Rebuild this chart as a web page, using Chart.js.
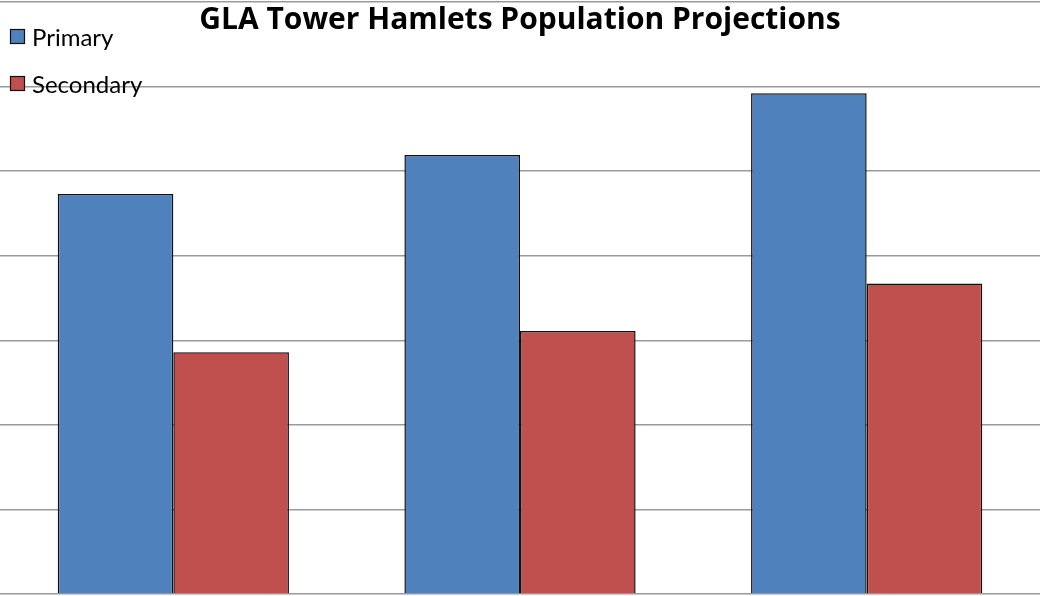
<!DOCTYPE html>
<html>
<head>
<meta charset="utf-8">
<script src="https://cdn.jsdelivr.net/npm/chart.js@4/dist/chart.umd.min.js"></script>
<style>
  html, body { margin:0; padding:0; background:#fff; }
  #wrap { width:1040px; height:596px; position:relative; }
</style>
</head>
<body>
<div id="wrap"><canvas id="chart"></canvas></div>
<script>
// data (units unknown, gridlines every 1)
const categories = ['2011', '2016', '2021'];
const primaryVals = [4.73, 5.19, 5.92];
const secondaryVals = [2.86, 3.11, 3.67];
const seriesNames = ['Primary', 'Secondary'];
const chartTitle = 'GLA Tower Hamlets Population Projections';

const BLUE = '#4F81BD';
const RED = '#C0504D';

// title + legend sit on top of the plot area, so draw them by hand
const overlay = {
  id: 'overlay',
  afterDraw(chart) {
    const ctx = chart.ctx;
    ctx.save();
    ctx.fillStyle = '#000';
    ctx.font = 'bold 30px "Open Sans", Lato, sans-serif';
    ctx.textAlign = 'center';
    ctx.textBaseline = 'middle';
    ctx.fillText(chartTitle, 520, 20);

    const cols = [BLUE, RED];
    const ys = [37, 84];
    ctx.textAlign = 'left';
    ctx.font = '24px Lato, "Open Sans", sans-serif';
    seriesNames.forEach((name, i) => {
      ctx.fillStyle = cols[i];
      ctx.fillRect(10.5, ys[i] - 7.5, 14, 14);
      ctx.strokeStyle = '#111';
      ctx.lineWidth = 1.2;
      ctx.strokeRect(10.5, ys[i] - 7.5, 14, 14);
      ctx.fillStyle = '#000';
      ctx.fillText(name, 32, ys[i] + 1);
    });
    ctx.restore();
  }
};

new Chart(document.getElementById('chart'), {
  type: 'bar',
  data: {
    labels: categories,
    datasets: [
      { label: seriesNames[0], data: primaryVals, backgroundColor: BLUE, borderColor: '#111', borderWidth: 1.5 },
      { label: seriesNames[1], data: secondaryVals, backgroundColor: RED, borderColor: '#111', borderWidth: 1.5 }
    ]
  },
  options: {
    responsive: true,
    maintainAspectRatio: false,
    animation: false,
    layout: { padding: { top: 2, bottom: 2, left: 0, right: 0 } },
    plugins: {
      legend: { display: false },
      title: { display: false },
      tooltip: { enabled: false }
    },
    datasets: {
      bar: { barPercentage: 1, categoryPercentage: 0.667 }
    },
    scales: {
      x: { display: false },
      y: {
        min: 0, max: 7,
        ticks: { display: false, stepSize: 1 },
        grid: { color: '#9a9a9a', lineWidth: 1.5, drawTicks: false },
        border: { display: false }
      }
    }
  },
  plugins: [overlay]
});
</script>
</body>
</html>
